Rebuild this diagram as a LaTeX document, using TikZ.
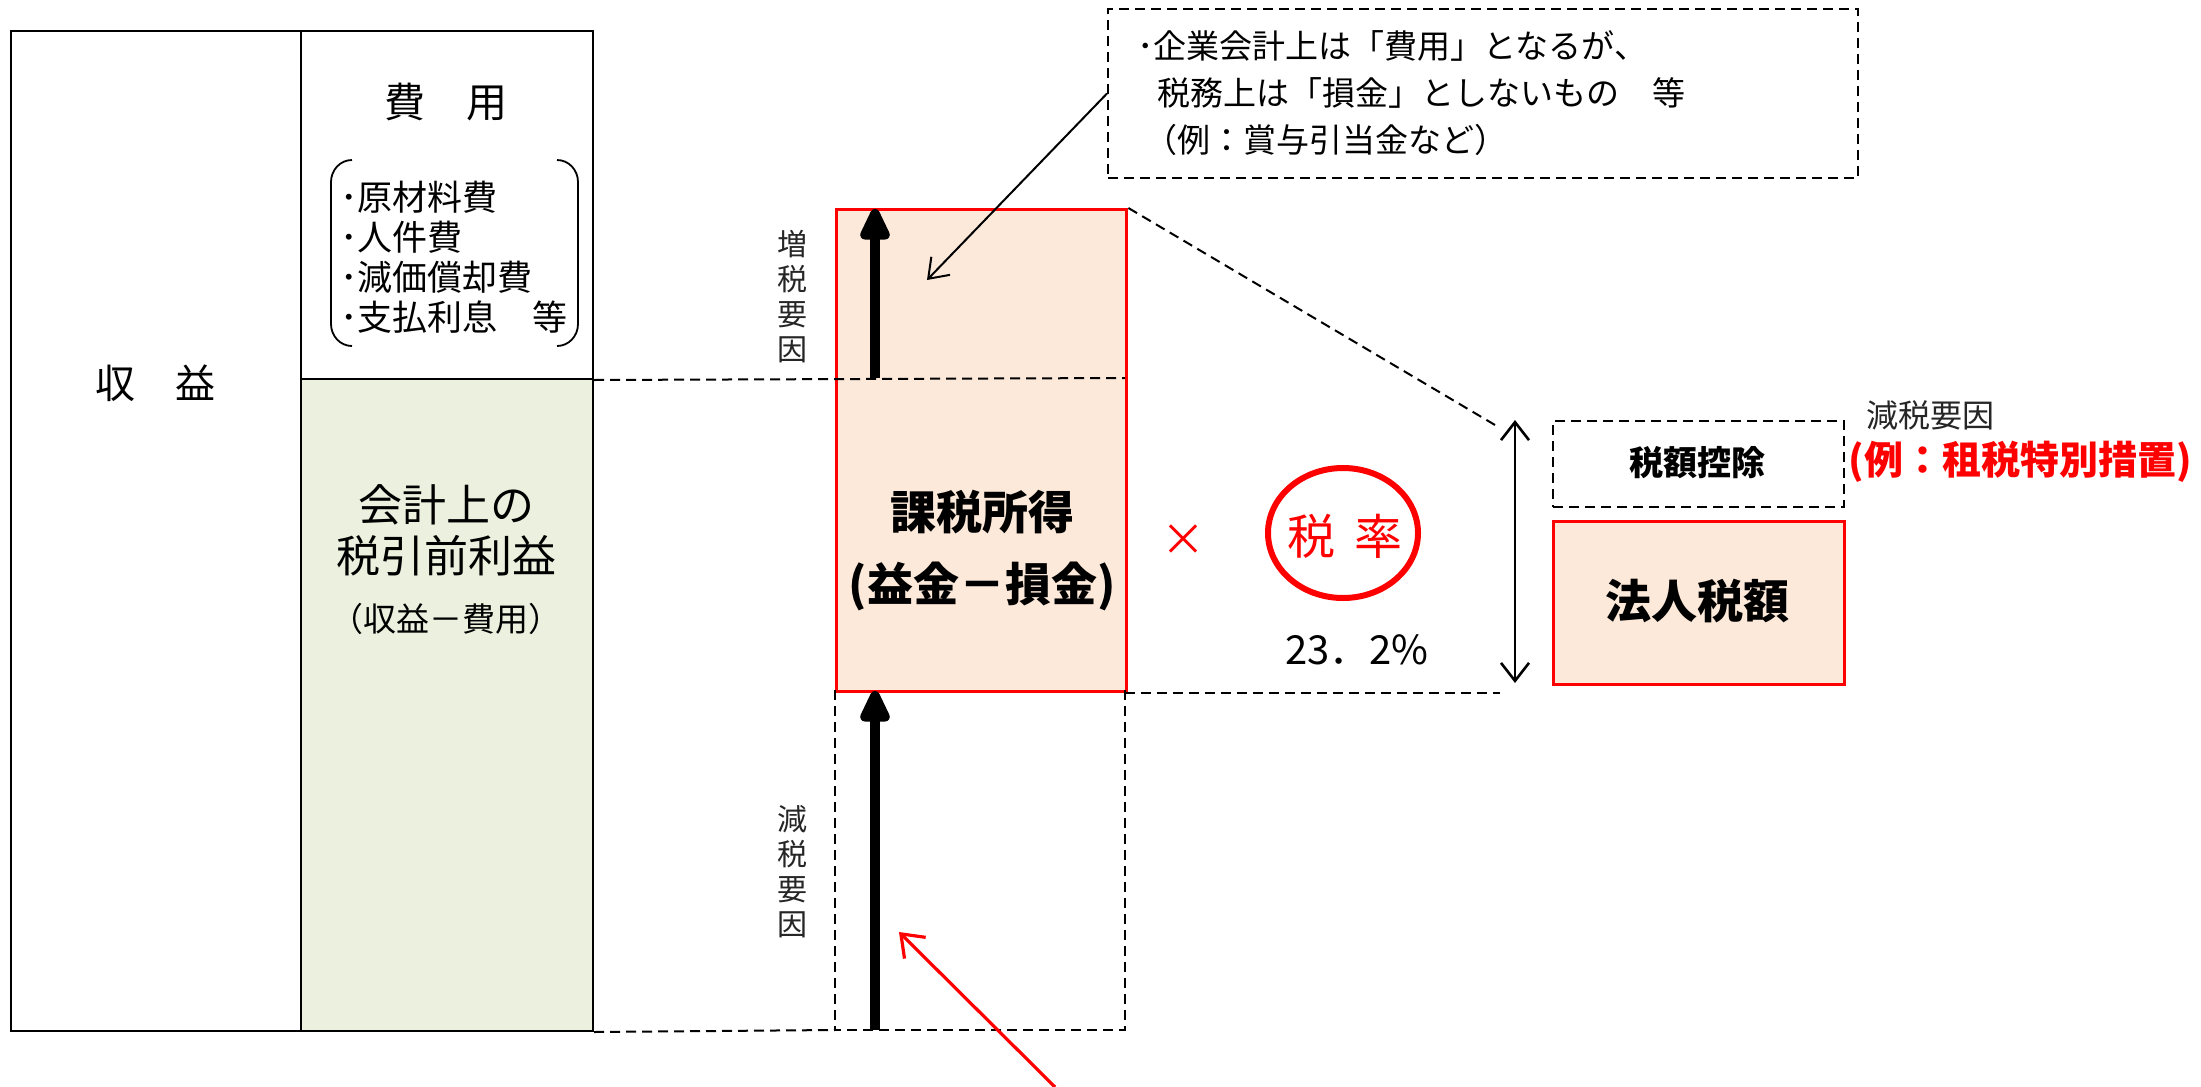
\documentclass[tikz,border=0pt]{standalone}
\usepackage{fontspec}
\setmainfont{Noto Sans CJK JP}
\usetikzlibrary{arrows.meta,shapes.geometric}
\definecolor{redc}{HTML}{FF0000}
\definecolor{orfill}{HTML}{FDE9D9}
\definecolor{grfill}{HTML}{EBF1DE}
\definecolor{lblgray}{HTML}{262626}
\newcommand{\fsz}[2]{\fontsize{#1}{#2}\selectfont}
\begin{document}
\begin{tikzpicture}[x=0.5pt,y=-0.5pt,
  solidbox/.style={draw=black, line width=1pt, inner sep=0pt, anchor=north west},
  dashbox/.style={draw=black, line width=1pt, dash pattern=on 5pt off 3pt, inner sep=0pt, anchor=north west},
  dashline/.style={draw=black, line width=1pt, dash pattern=on 5pt off 3pt},
  redbox/.style={draw=redc, line width=1.7pt, fill=orfill, inner sep=0pt, anchor=north west},
  bigarrow/.style={line width=5pt, -{Triangle[width=16pt,length=19pt,round]}},
  lbl/.style={inner sep=0pt, align=center},
  vlbl/.style={inner sep=0pt, align=center, text=lblgray, font=\fsz{15pt}{17.5pt}},
]
\useasboundingbox[fill=white] (0,0) rectangle (2201,1087);

% left columns
\node[solidbox, minimum width=145pt, minimum height=500pt] (revbox) at (10,30) {};
\node[solidbox, minimum width=146pt, minimum height=174pt] (expbox) at (300,30) {};
\node[solidbox, fill=grfill, minimum width=146pt, minimum height=326pt] (profbox) at (300,378) {};

% taxable income box
\node[redbox, minimum width=145pt, minimum height=241pt] (taxinc) at (835,208) {};

% lower dashed box
\coordinate (lbl0) at (835,690);
\coordinate (lbl1) at (835,1030);
\coordinate (lbr1) at (1125,1030);
\coordinate (lbr0) at (1125,690);
\draw[dashline] (lbl0) -- (lbl1) -- (lbr1) -- (lbr0);
\draw[dashline] (profbox.south east) -- (lbl1);
\coordinate (midR) at (1125,378);
\draw[dashline] (expbox.south east) -- (midR);

% thick arrows
\coordinate (incS) at (875,378);
\coordinate (incE) at (875,209);
\draw[bigarrow] (incS) -- (incE);
\coordinate (decS) at (875,1030);
\coordinate (decE) at (875,691);
\draw[bigarrow] (decS) -- (decE);

% callout
\node[dashbox, minimum width=375pt, minimum height=84.5pt] (callout) at (1107,8) {};
\node[lbl, anchor=west, align=left, font=\fsz{16.5pt}{23.5pt}] (callouttxt) at (1137,93)
  {･企業会計上は「費用」となるが、\\\hspace{0.6em}税務上は「損金」としないもの\hspace{1em}等\\\hspace{0.2em}（例：賞与引当金など）};
\coordinate (thintip) at (927,280);
\draw[line width=1pt, -{Straight Barb[length=9pt,width=13pt]}] (callout.west) -- (thintip);

% red arrow
\coordinate (redS) at (1055,1087);
\coordinate (redE) at (899,932);
\draw[redc, line width=1.6pt, -{Straight Barb[length=10pt,width=15pt]}] (redS) -- (redE);

% right side
\coordinate (diagE) at (1495,425);
\draw[dashline] (taxinc.north east) -- (diagE);
\coordinate (horS) at (1125,693);
\coordinate (horE) at (1500,693);
\draw[dashline] (horS) -- (horE);
\coordinate (dblT) at (1515,420);
\coordinate (dblB) at (1515,683);
\draw[line width=1.3pt, {Straight Barb[length=9pt,width=14pt]}-{Straight Barb[length=9pt,width=14pt]}] (dblT) -- (dblB);

\node[dashbox, minimum width=145.5pt, minimum height=43pt] (credit) at (1552,420) {};
\node[redbox, minimum width=145.5pt, minimum height=81.5pt] (taxamt) at (1552,520) {};

% rate circle
\node[draw=redc, line width=3pt, ellipse, minimum width=75pt, minimum height=65pt, inner sep=0pt] (rate) at (1343,533) {};

% brackets around list
\draw[line width=0.9pt] (352,160) to[out=180,in=90] (331,182) -- (331,324) to[out=-90,in=180] (352,346);
\draw[line width=0.9pt] (557,160) to[out=0,in=90] (578,182) -- (578,324) to[out=-90,in=0] (557,346);

% texts
\node[lbl, font=\fsz{20pt}{24pt}] (revtxt) at (155,383) {収\hspace{1em}益};
\node[lbl, font=\fsz{20.5pt}{24pt}] (exptxt) at (446,102) {費\hspace{1em}用};
\node[lbl, anchor=west, align=left, font=\fsz{17.5pt}{20pt}] (explist) at (340,257)
  {･原材料費\\･人件費\\･減価償却費\\･支払利息\hspace{1em}等};
\node[lbl, font=\fsz{22pt}{26pt}] (prof1) at (446,505) {会計上の};
\node[lbl, font=\fsz{22pt}{26pt}] (prof2) at (446,556) {税引前利益};
\node[lbl, font=\fsz{16.5pt}{20pt}] (prof3) at (446,619) {（収益－費用）};

\node[lbl, font=\bfseries\fsz{23pt}{27pt}] (inc1) at (982,512) {課税所得};
\node[lbl, font=\bfseries\fsz{23pt}{27pt}] (inc2) at (982,586) {(益金－損金)};

\node[vlbl] (inclbl) at (792,297) {増\\税\\要\\因};
\node[vlbl] (declbl) at (792,872) {減\\税\\要\\因};

\node[lbl, text=redc, font=\fsz{22pt}{26pt}] (times) at (1183,540) {×};
\node[lbl, text=redc, font=\fsz{24pt}{28pt}] (ratetxt) at (1345,536) {税\hspace{0.4em}率};
\node[lbl, font=\fsz{20pt}{24pt}] (ratenum) at (1357,650) {23．2\%};

\node[lbl, font=\bfseries\fsz{17pt}{20pt}] (credittxt) at (1697,463) {税額控除};
\node[lbl, font=\bfseries\fsz{23pt}{27pt}] (taxamttxt) at (1697,601) {法人税額};
\node[lbl, text=lblgray, font=\fsz{16pt}{19pt}] (declbl2) at (1930,415) {減税要因};
\node[lbl, text=redc, font=\bfseries\fsz{19.5pt}{23pt}] (example) at (2020,462) {(例：租税特別措置)};
\end{tikzpicture}
\end{document}
